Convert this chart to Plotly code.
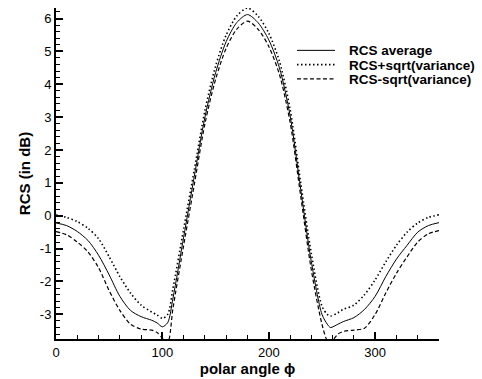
import plotly.graph_objects as go

# polar angle (deg)
phi = [0, 10, 20, 30, 40, 50, 60, 70, 80, 90, 95, 100, 105, 110, 120, 130, 140, 150, 160, 170, 180,
       190, 200, 210, 220, 230, 240, 250, 255, 258, 265, 270, 280, 290, 300, 310, 320, 330, 340, 350, 360]

rcs_avg = [-0.22, -0.3, -0.48, -0.75, -1.2, -1.8, -2.45, -2.88, -3.07, -3.18, -3.26, -3.38, -3.25, -2.5, -0.65,
           1.2, 3.0, 4.35, 5.3, 5.88, 6.12,
           5.87, 5.35, 4.5, 3.05, 0.8, -1.4, -3.0, -3.3, -3.4, -3.3, -3.22, -3.1, -2.85, -2.45, -1.85, -1.32,
           -0.9, -0.5, -0.3, -0.21]

rcs_plus = [0.02, -0.05, -0.18, -0.38, -0.7, -1.25, -1.85, -2.35, -2.72, -2.93, -3.02, -3.12, -3.0, -2.2, -0.4,
            1.4, 3.2, 4.55, 5.5, 6.08, 6.32,
            6.07, 5.55, 4.7, 3.25, 1.0, -1.15, -2.75, -3.0, -3.05, -2.95, -2.85, -2.72, -2.4, -1.95, -1.4, -0.9,
            -0.5, -0.22, -0.05, 0.03]

rcs_minus = [-0.48, -0.58, -0.8, -1.1, -1.58, -2.28, -2.88, -3.3, -3.45, -3.48, -3.55, -3.72, -3.85, -2.8, -0.9,
             0.95, 2.8, 4.15, 5.1, 5.68, 5.92,
             5.67, 5.15, 4.3, 2.85, 0.6, -1.65, -3.3, -3.8, -3.85, -3.6, -3.52, -3.48, -3.42, -3.0, -2.35, -1.75,
             -1.25, -0.8, -0.55, -0.45]

series_names = ["RCS average", "RCS+sqrt(variance)", "RCS-sqrt(variance)"]

x_ticks = [0, 100, 200, 300]
y_ticks = [-3, -2, -1, 0, 1, 2, 3, 4, 5, 6]

FONT = "Liberation Sans, Arial, Helvetica, sans-serif"

styles = [
    dict(color="black", width=1),
    dict(color="black", width=1.6, dash="1.5px,2.5px"),
    dict(color="black", width=1.2, dash="4px,2.5px"),
]
series = [rcs_avg, rcs_plus, rcs_minus]

fig = go.Figure()
for name, vals, st in zip(series_names, series, styles):
    fig.add_trace(go.Scatter(x=phi, y=vals, mode="lines", name=name, showlegend=False,
                             line=dict(shape="spline", smoothing=0.8, **st)))

# hand-drawn legend (paper coordinates) to match compact row spacing
W, H, L, T = 383.0, 336.0, 56.0, 8.0
def px_to_paper(px, py):
    return (px - L) / W, 1 - (py - T) / H

rows_py = [51.0, 65.5, 80.0]
for name, st, py in zip(series_names, styles, rows_py):
    x0, y0 = px_to_paper(297, py)
    x1, _ = px_to_paper(335, py)
    xt, yt = px_to_paper(348, py + 0.5)
    fig.add_shape(type="line", xref="paper", yref="paper", x0=x0, x1=x1, y0=y0, y1=y0,
                  line=dict(color=st["color"], width=st["width"], dash=st.get("dash", "solid")))
    fig.add_annotation(xref="paper", yref="paper", x=xt, y=yt, xanchor="left", yanchor="middle",
                       text=name, showarrow=False, borderpad=0,
                       font=dict(family=FONT, size=13.5, color="black", weight="bold"))

fig.update_layout(
    width=482, height=379,
    margin=dict(l=56, r=43, t=8, b=35),
    paper_bgcolor="white", plot_bgcolor="white",
    font=dict(family=FONT, size=13, color="black"),
    showlegend=False,
)
fig.update_xaxes(
    range=[0, 360], showline=True, linecolor="black", linewidth=2,
    showgrid=False, zeroline=False, mirror=False,
    tickmode="array", tickvals=x_ticks, ticktext=[str(v) for v in x_ticks],
    ticks="inside", ticklen=7, tickwidth=1.5, tickcolor="black",
    minor=dict(dtick=20, ticks="inside", ticklen=4, tickwidth=1, tickcolor="black", showgrid=False),
    tickfont=dict(size=13),
    title=dict(text="polar angle ϕ", font=dict(size=15, weight="bold"), standoff=1),
)
fig.update_yaxes(
    range=[-3.75, 6.32], showline=True, linecolor="black", linewidth=2,
    showgrid=False, zeroline=False, mirror=False,
    tickmode="array", tickvals=y_ticks, ticktext=[str(v) for v in y_ticks],
    ticks="inside", ticklen=7, tickwidth=1.5, tickcolor="black",
    minor=dict(dtick=0.2, tick0=0, ticks="inside", ticklen=4, tickwidth=1, tickcolor="black", showgrid=False),
    tickfont=dict(size=13),
    title=dict(text="RCS (in dB)", font=dict(size=15, weight="bold"), standoff=6),
)

fig.write_html("out.html")
